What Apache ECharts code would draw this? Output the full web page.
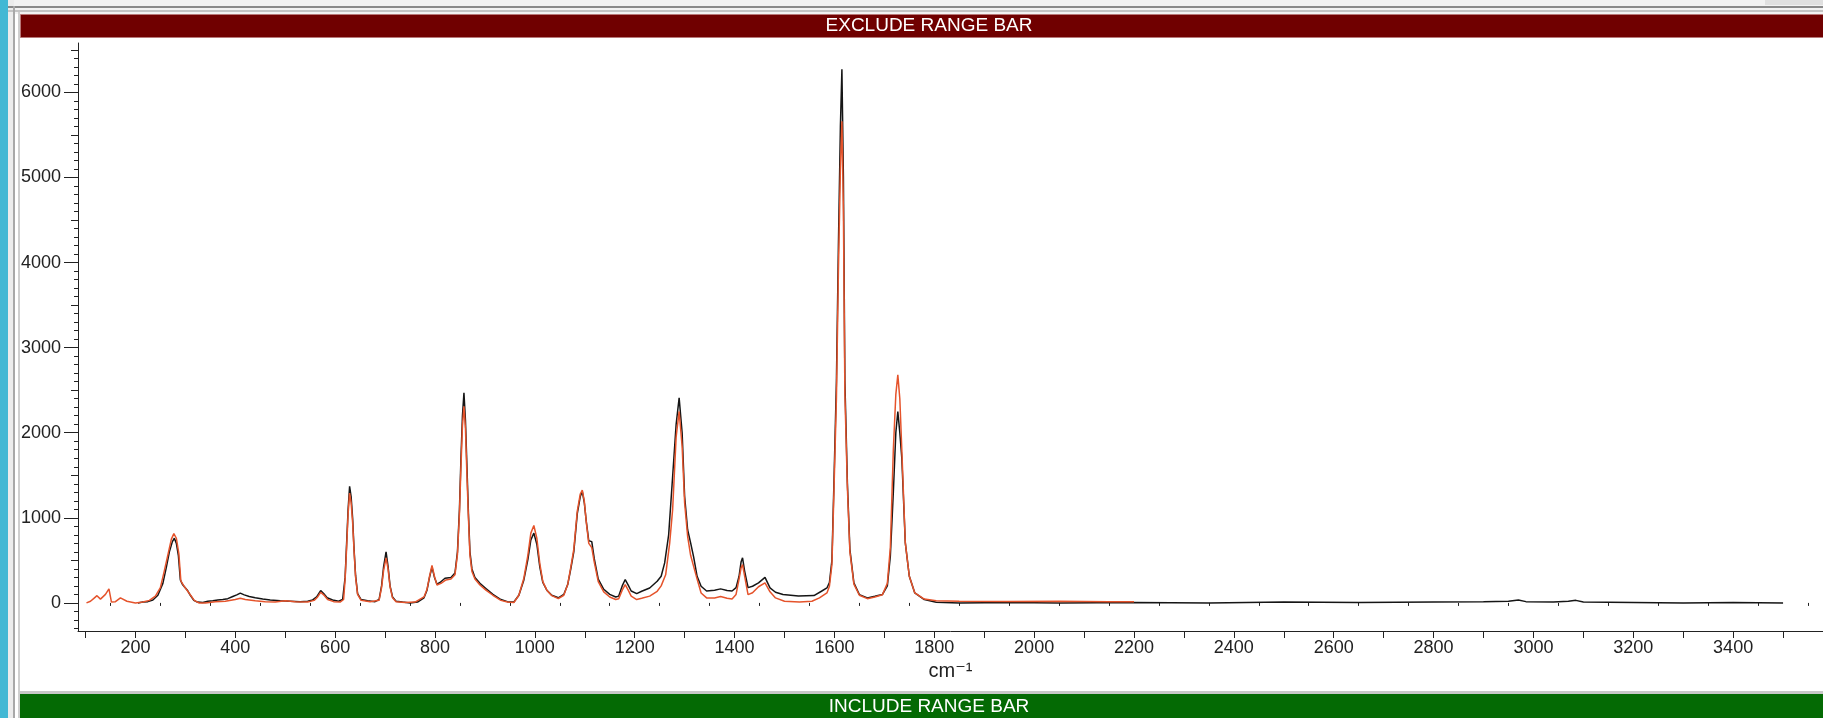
<!DOCTYPE html>
<html>
<head>
<meta charset="utf-8">
<title>Spectrum</title>
<script src="https://cdn.jsdelivr.net/npm/echarts@6/dist/echarts.min.js"></script>
<style>
  html, body { margin: 0; padding: 0; background: #fff; }
  #mychart { width: 1823px; height: 718px; }
</style>
</head>
<body>
<div id="mychart"></div>
<script>
// black spectrum (cm-1 / counts)
let blackX = [205, 215, 225, 235, 245, 255, 262, 268, 274, 278, 282, 286, 290, 294, 298, 304, 310, 317, 324, 335,
  345, 355, 365, 375, 385, 395, 403, 410, 418, 428, 440, 455, 470, 490, 510, 530, 545, 555, 563, 571,
  577, 584, 595, 607, 615, 620, 623, 626, 629, 632, 635, 638, 641, 645, 652, 665, 680, 688, 693, 697,
  702, 706, 710, 715, 722, 735, 750, 765, 778, 784, 789, 794, 799, 804, 810, 820, 832, 840, 845, 849,
  852, 855, 858, 861, 864, 867, 870, 874, 880, 890, 902, 916, 932, 945, 958, 968, 978, 986, 992, 998,
  1004, 1010, 1016, 1024, 1034, 1047, 1058, 1066, 1072, 1078, 1085, 1091, 1095, 1099, 1103, 1108, 1114, 1119, 1127, 1138,
  1150, 1162, 1168, 1175, 1181, 1187, 1193, 1204, 1214, 1230, 1245, 1253, 1260, 1268, 1275, 1283, 1289, 1295, 1300, 1306,
  1312, 1318, 1325, 1333, 1344, 1360, 1372, 1385, 1395, 1403, 1409, 1413, 1416, 1420, 1427, 1436, 1448, 1461, 1471, 1482,
  1497, 1528, 1559, 1574, 1585, 1590, 1595, 1599, 1604, 1608, 1612, 1615, 1618, 1621, 1626, 1631, 1639, 1650, 1666, 1681,
  1696, 1706, 1712, 1718, 1723, 1727, 1731, 1735, 1742, 1750, 1761, 1780, 1804, 1850, 1950, 2050, 2200, 2350, 2500, 2650,
  2800, 2900, 2950, 2970, 2985, 3040, 3070, 3085, 3100, 3200, 3300, 3400, 3500];
let blackY = [0, 10, 15, 35, 90, 230, 420, 600, 720, 760, 700, 560, 270, 220, 190, 150, 90, 30, 10, 5,
  20, 25, 35, 40, 50, 75, 95, 115, 95, 75, 60, 45, 35, 25, 20, 15, 20, 35, 70, 145,
  110, 60, 35, 20, 40, 300, 700, 1100, 1370, 1250, 1000, 620, 320, 110, 40, 25, 15, 40, 200, 420,
  600, 430, 200, 70, 20, 10, 0, 10, 60, 150, 300, 420, 300, 220, 240, 290, 300, 350, 600, 1100,
  1700, 2200, 2470, 2150, 1600, 1050, 600, 400, 300, 230, 170, 100, 40, 15, 10, 90, 270, 510, 740, 820,
  690, 420, 240, 150, 90, 60, 100, 220, 400, 600, 1050, 1250, 1310, 1180, 960, 730, 720, 520, 280, 160,
  100, 70, 80, 200, 275, 210, 140, 110, 137, 176, 254, 313, 470, 800, 1400, 2100, 2410, 2000, 1250, 860,
  705, 540, 313, 196, 140, 150, 165, 145, 140, 180, 313, 480, 530, 380, 180, 196, 235, 300, 176, 125,
  98, 80, 86, 137, 176, 240, 500, 1400, 2600, 4200, 5600, 6270, 5000, 2600, 1410, 630, 235, 98, 59, 78,
  98, 200, 550, 1300, 2000, 2250, 2000, 1700, 705, 313, 117, 39, 8, 0, 5, 0, 5, 0, 10, 5,
  10, 15, 20, 35, 15, 10, 20, 30, 10, 5, 0, 5, 0];

// orange spectrum
let orangeX = [102, 110, 118, 123, 130, 140, 147, 152, 160, 170, 183, 200, 215, 228, 240, 250, 258, 266, 272, 277,
  282, 287, 291, 297, 308, 318, 327, 340, 360, 380, 400, 410, 420, 440, 460, 480, 500, 520, 545, 558,
  565, 571, 577, 585, 597, 610, 617, 620, 623, 626, 629, 632, 635, 638, 641, 645, 652, 670, 688, 693,
  697, 702, 706, 710, 715, 722, 740, 760, 778, 784, 789, 794, 799, 804, 812, 822, 832, 840, 845, 849,
  852, 855, 858, 861, 864, 867, 870, 874, 880, 890, 902, 916, 932, 945, 958, 968, 978, 986, 992, 998,
  1004, 1010, 1016, 1024, 1034, 1047, 1058, 1066, 1072, 1078, 1085, 1091, 1095, 1099, 1103, 1108, 1114, 1119, 1127, 1138,
  1150, 1162, 1168, 1175, 1181, 1187, 1193, 1204, 1214, 1230, 1245, 1253, 1262, 1270, 1276, 1283, 1289, 1295, 1300, 1306,
  1312, 1318, 1325, 1333, 1344, 1360, 1372, 1385, 1395, 1403, 1409, 1413, 1416, 1420, 1427, 1436, 1448, 1461, 1471, 1482,
  1500, 1530, 1555, 1570, 1585, 1590, 1595, 1599, 1604, 1608, 1612, 1615, 1618, 1621, 1626, 1631, 1639, 1650, 1666, 1681,
  1696, 1706, 1712, 1718, 1723, 1727, 1731, 1735, 1742, 1750, 1761, 1780, 1804, 1850, 1950, 2050, 2150, 2200];
let orangeY = [0, 20, 60, 85, 45, 100, 165, 10, 15, 60, 20, 0, 10, 30, 80, 180, 380, 590, 750, 815,
  760, 580, 260, 200, 110, 30, 0, 0, 15, 20, 40, 55, 40, 25, 15, 10, 25, 15, 10, 30,
  70, 125, 95, 40, 15, 10, 40, 280, 650, 1050, 1290, 1180, 950, 600, 300, 100, 30, 15, 30, 180,
  380, 530, 400, 190, 60, 15, 5, 10, 70, 160, 310, 440, 310, 210, 230, 270, 280, 330, 570, 1050,
  1600, 2080, 2310, 2050, 1500, 1000, 560, 370, 280, 210, 150, 90, 30, 10, 5, 90, 290, 560, 820, 910,
  760, 460, 250, 150, 85, 50, 90, 220, 420, 630, 1080, 1280, 1325, 1200, 950, 700, 650, 480, 250, 130,
  70, 40, 50, 150, 215, 150, 80, 40, 55, 80, 137, 200, 330, 700, 1100, 1950, 2250, 1840, 1175, 783,
  560, 430, 280, 117, 59, 59, 75, 55, 47, 100, 280, 410, 450, 320, 98, 120, 190, 235, 130, 59,
  20, 10, 20, 59, 117, 196, 450, 1300, 2400, 3900, 5100, 5660, 4600, 2450, 1350, 600, 220, 90, 50, 70,
  95, 230, 650, 1800, 2450, 2680, 2400, 1800, 705, 313, 117, 45, 25, 20, 18, 20, 15, 15];

// tick values
let xLabels = [200, 400, 600, 800, 1000, 1200, 1400, 1600, 1800, 2000, 2200, 2400, 2600, 2800, 3000, 3200, 3400];
let yLabels = [0, 1000, 2000, 3000, 4000, 5000, 6000];

let colors = {
  black: '#151515',
  orange: '#e5532b',
  axis: '#222',
  exclude: '#700000',
  include: '#046a04',
  strip: '#42b8d4',
};

let font = '"Liberation Sans", Arial, "DejaVu Sans", sans-serif';

function zip(xs, ys) {
  return xs.map((x, i) => [x, ys[i]]);
}

function range(start, end, step, skip) {
  let arr = [];
  for (let v = start; v <= end; v += step) {
    if (!skip || v % skip !== 0) arr.push(v);
  }
  return arr;
}

// plain numbers, no thousands separator
function plain(value) {
  return String(value);
}

let X_MIN = 85, X_MAX = 3580, Y_MIN = -330, Y_MAX = 6580;

function yAxisBase() {
  return {
    type: 'value',
    min: Y_MIN,
    max: Y_MAX,
    position: 'left',
    offset: 0,
    splitLine: { show: false },
    axisLine: { show: false },
    axisLabel: { show: false },
  };
}

function xAxisBase() {
  return {
    type: 'value',
    min: X_MIN,
    max: X_MAX,
    position: 'bottom',
    offset: 0,
    splitLine: { show: false },
    axisLine: { show: false },
    axisLabel: { show: false },
  };
}

let option = {
  backgroundColor: '#fff',
  animation: false,
  grid: { left: 78, right: 0, top: 43, bottom: 87 },
  xAxis: [
    Object.assign(xAxisBase(), {
      name: 'cm⁻¹',
      nameLocation: 'middle',
      nameGap: 30,
      nameTextStyle: { fontSize: 20, color: colors.axis, fontFamily: font },
      axisLine: { show: true, onZero: false, lineStyle: { color: colors.axis, width: 1 } },
      axisTick: { show: true, length: 7, customValues: range(100, 3500, 100), lineStyle: { color: colors.axis } },
      axisLabel: { show: true, customValues: xLabels, formatter: plain, margin: 8, fontSize: 18, color: colors.axis, fontFamily: font },
    }),
    Object.assign(xAxisBase(), {
      axisTick: { show: true, length: 3, customValues: range(150, 3550, 100), lineStyle: { color: colors.axis } },
    }),
  ],
  yAxis: [
    Object.assign(yAxisBase(), {
      axisLine: { show: true, onZero: false, lineStyle: { color: colors.axis, width: 1 } },
      axisTick: { show: true, length: 14, customValues: yLabels, lineStyle: { color: colors.axis } },
      axisLabel: { show: true, customValues: yLabels, formatter: plain, margin: 17, fontSize: 18, color: colors.axis, fontFamily: font },
    }),
    Object.assign(yAxisBase(), {
      axisTick: { show: true, length: 7, customValues: range(-500, 6500, 500, 1000).filter((v) => v > Y_MIN), lineStyle: { color: colors.axis } },
    }),
    Object.assign(yAxisBase(), {
      axisTick: { show: true, length: 4, customValues: range(-300, 6500, 100, 500), lineStyle: { color: colors.axis } },
    }),
  ],
  graphic: [
    // window frame
    { type: 'rect', z: -10, shape: { x: 0, y: 0, width: 1823, height: 14 }, style: { fill: '#f2f2f2' } },
    { type: 'rect', z: -9, shape: { x: 0, y: 6, width: 1823, height: 2 }, style: { fill: '#8a8a8a' } },
    { type: 'rect', z: -9, shape: { x: 0, y: 10, width: 1823, height: 2 }, style: { fill: '#c4c4c4' } },
    { type: 'rect', z: -9, shape: { x: 1765, y: 0, width: 58, height: 5 }, style: { fill: '#e0e0e0' } },
    { type: 'rect', z: -10, shape: { x: 0, y: 0, width: 14, height: 718 }, style: { fill: '#ececec' } },
    { type: 'rect', z: -9, shape: { x: 13, y: 6, width: 2, height: 712 }, style: { fill: '#a8a8a8' } },
    { type: 'rect', z: -9, shape: { x: 18, y: 12, width: 2, height: 706 }, style: { fill: '#cfcfcf' } },
    { type: 'rect', z: -8, shape: { x: 0, y: 0, width: 8, height: 718 }, style: { fill: colors.strip } },
    // exclude range bar
    {
      type: 'rect', z: -5,
      shape: { x: 20.5, y: 14.5, width: 1810, height: 23 },
      style: { fill: colors.exclude, stroke: '#b87878', lineWidth: 1 },
    },
    {
      type: 'text', z: -4, x: 929, y: 26,
      style: { text: 'EXCLUDE RANGE BAR', fill: '#fff', fontSize: 19, fontFamily: font, align: 'center', verticalAlign: 'middle' },
    },
    // include range bar
    { type: 'rect', z: -5, shape: { x: 20, y: 691, width: 1803, height: 3 }, style: { fill: '#c8c8c8' } },
    { type: 'rect', z: -5, shape: { x: 20, y: 694, width: 1803, height: 24 }, style: { fill: colors.include } },
    {
      type: 'text', z: -4, x: 929, y: 707,
      style: { text: 'INCLUDE RANGE BAR', fill: '#fff', fontSize: 19, fontFamily: font, align: 'center', verticalAlign: 'middle' },
    },
  ],
  series: [
    {
      name: 'black',
      type: 'line',
      xAxisIndex: 0,
      yAxisIndex: 0,
      showSymbol: false,
      silent: true,
      data: zip(blackX, blackY),
      lineStyle: { color: colors.black, width: 1.5 },
      z: 2,
    },
    {
      name: 'orange',
      type: 'line',
      xAxisIndex: 0,
      yAxisIndex: 0,
      showSymbol: false,
      silent: true,
      data: zip(orangeX, orangeY),
      lineStyle: { color: colors.orange, width: 1.5 },
      z: 3,
    },
  ],
};

let myChart = echarts.init(document.getElementById('mychart'));
myChart.setOption(option);
</script>
</body>
</html>
